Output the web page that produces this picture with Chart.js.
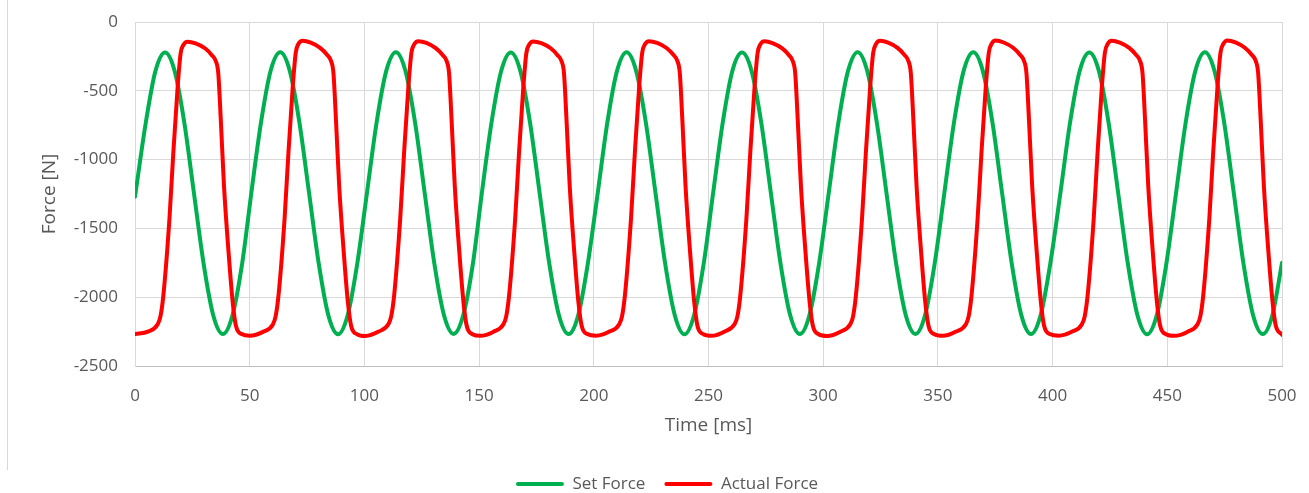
<!DOCTYPE html>
<html><head><meta charset="utf-8">
<script src="https://cdn.jsdelivr.net/npm/chart.js@4"></script>
<style>
html,body{margin:0;padding:0;background:#fff;overflow:hidden;}
#wrap{position:relative;width:1309px;height:493px;}
#frame{position:absolute;left:7px;top:0;width:1px;height:470px;background:#d9d9d9;}
canvas{position:absolute;left:0;top:0;}
</style></head><body>
<div id="wrap"><div id="frame"></div><canvas id="c" width="1309" height="493" style="width:1309px;height:493px"></canvas></div>
<script>
const seriesNames = ['Set Force', 'Actual Force'];
const xTickValues = [0, 50, 100, 150, 200, 250, 300, 350, 400, 450, 500];
const yTickValues = [-2500, -2000, -1500, -1000, -500, 0];

const setTime = [
  0, 4.7, 8.9, 13.1, 17.3, 21.5, 25.7, 29.9, 34.1, 38.3, 42.5, 46.7,
  50.7, 54.9, 59.1, 63.3, 67.5, 71.7, 75.9, 80.1, 84.3, 88.5, 92.7, 96.9,
  101.1, 105.3, 109.5, 113.7, 117.9, 122.1, 126.3, 130.5, 134.7, 138.9, 143.1, 147.3,
  151.2, 155.4, 159.6, 163.8, 168.0, 172.2, 176.4, 180.6, 184.8, 189.0, 193.2, 197.4,
  201.7, 205.9, 210.1, 214.3, 218.5, 222.7, 226.9, 231.1, 235.3, 239.5, 243.7, 247.9,
  252.0, 256.2, 260.4, 264.6, 268.8, 273.0, 277.2, 281.4, 285.6, 289.8, 294.0, 298.2,
  302.4, 306.6, 310.8, 315.0, 319.2, 323.4, 327.6, 331.8, 336.0, 340.2, 344.4, 348.6,
  352.8, 357.0, 361.2, 365.4, 369.6, 373.8, 378.0, 382.2, 386.4, 390.6, 394.8, 399.0,
  403.4, 407.6, 411.8, 416.0, 420.2, 424.4, 428.6, 432.8, 437.0, 441.2, 445.4, 449.6,
  453.8, 458.0, 462.2, 466.4, 470.6, 474.8, 479.0, 483.2, 487.4, 491.6, 495.8, 500.0
];
const setForce = [
  -1270, -732, -357, -221, -357, -732, -1244, -1756, -2131, -2268, -2131, -1756,
  -1244, -733, -356, -220, -357, -733, -1245, -1756, -2132, -2269, -2131, -1755,
  -1244, -732, -357, -219, -356, -732, -1244, -1757, -2131, -2267, -2130, -1756,
  -1243, -732, -358, -221, -357, -731, -1244, -1756, -2131, -2268, -2132, -1756,
  -1244, -731, -357, -220, -358, -732, -1243, -1755, -2131, -2270, -2131, -1757,
  -1245, -732, -356, -222, -357, -732, -1244, -1756, -2130, -2268, -2131, -1756,
  -1244, -733, -357, -219, -356, -733, -1244, -1756, -2131, -2267, -2131, -1755,
  -1244, -732, -357, -220, -357, -732, -1245, -1757, -2132, -2268, -2130, -1756,
  -1243, -732, -356, -221, -357, -731, -1244, -1756, -2131, -2269, -2131, -1756,
  -1244, -732, -357, -220, -358, -732, -1244, -1755, -2131, -2268, -2131, -1750
];

const actTime = [
  0, 5.6, 9.9, 11.1, 12.35, 15.0, 16.7, 18.6, 19.9, 21.1, 22.9, 26.4, 30.5, 33.4, 35.3, 36.3, 37.4, 38.8, 40.8, 42.6, 44.0, 46.5,
  50.0, 55.8, 60.1, 61.3, 62.55, 65.2, 66.9, 68.8, 70.1, 71.3, 73.1, 76.6, 80.7, 83.6, 85.5, 86.5, 87.6, 89.0, 91.0, 92.8, 94.2, 96.7,
  100.4, 106.2, 110.5, 111.7, 112.95, 115.6, 117.3, 119.2, 120.5, 121.7, 123.5, 127.0, 131.1, 134.0, 135.9, 136.9, 138.0, 139.4, 141.4, 143.2, 144.6, 147.1,
  150.5, 156.3, 160.6, 161.8, 163.05, 165.7, 167.4, 169.3, 170.6, 171.8, 173.6, 177.1, 181.2, 184.1, 186.0, 187.0, 188.1, 189.5, 191.5, 193.3, 194.7, 197.2,
  201.0, 206.8, 211.1, 212.3, 213.55, 216.2, 217.9, 219.8, 221.1, 222.3, 224.1, 227.6, 231.7, 234.6, 236.5, 237.5, 238.6, 240.0, 242.0, 243.8, 245.2, 247.7,
  251.3, 257.1, 261.4, 262.6, 263.85, 266.5, 268.2, 270.1, 271.4, 272.6, 274.4, 277.9, 282.0, 284.9, 286.8, 287.8, 288.9, 290.3, 292.3, 294.1, 295.5, 298.0,
  301.7, 307.5, 311.8, 313.0, 314.25, 316.9, 318.6, 320.5, 321.8, 323.0, 324.8, 328.3, 332.4, 335.3, 337.2, 338.2, 339.3, 340.7, 342.7, 344.5, 345.9, 348.4,
  352.1, 357.9, 362.2, 363.4, 364.65, 367.3, 369.0, 370.9, 372.2, 373.4, 375.2, 378.7, 382.8, 385.7, 387.6, 388.6, 389.7, 391.1, 393.1, 394.9, 396.3, 398.8,
  402.7, 408.5, 412.8, 414.0, 415.25, 417.9, 419.6, 421.5, 422.8, 424.0, 425.8, 429.3, 433.4, 436.3, 438.2, 439.2, 440.3, 441.7, 443.7, 445.5, 446.9, 449.4,
  453.1, 458.9, 463.2, 464.4, 465.65, 468.3, 470.0, 471.9, 473.2, 474.4, 476.2, 479.7, 483.8, 486.7, 488.6, 489.6, 490.7, 492.1, 494.1, 495.9, 497.3, 499.8,
  500
];
const actForce = [
  -2268, -2250, -2196, -2140, -1990, -1435, -951, -469, -227, -167, -143, -155, -191, -239, -287, -372, -710, -1193, -1676, -2038, -2208, -2268,
  -2280, -2252, -2198, -2140, -1988, -1430, -945, -462, -220, -158, -136, -150, -188, -236, -285, -370, -708, -1190, -1674, -2036, -2207, -2268,
  -2282, -2250, -2195, -2138, -1990, -1433, -950, -466, -224, -163, -140, -152, -190, -238, -286, -372, -710, -1193, -1676, -2038, -2208, -2269,
  -2281, -2251, -2197, -2141, -1991, -1436, -952, -468, -226, -165, -141, -154, -191, -239, -287, -371, -709, -1192, -1675, -2037, -2208, -2268,
  -2280, -2250, -2196, -2139, -1989, -1434, -949, -465, -223, -162, -139, -152, -189, -237, -286, -372, -711, -1194, -1677, -2039, -2209, -2268,
  -2281, -2249, -2195, -2140, -1990, -1435, -951, -467, -225, -163, -140, -153, -190, -238, -287, -373, -710, -1193, -1676, -2038, -2208, -2269,
  -2282, -2251, -2197, -2141, -1990, -1434, -950, -466, -223, -161, -137, -150, -188, -237, -286, -372, -709, -1192, -1676, -2037, -2207, -2268,
  -2281, -2250, -2196, -2140, -1989, -1433, -948, -464, -221, -159, -135, -149, -187, -236, -285, -371, -709, -1193, -1675, -2038, -2208, -2268,
  -2280, -2250, -2196, -2139, -1990, -1434, -949, -465, -222, -160, -136, -150, -188, -237, -286, -372, -710, -1193, -1676, -2038, -2208, -2269,
  -2281, -2251, -2196, -2140, -1990, -1435, -950, -466, -222, -160, -134, -148, -187, -236, -285, -371, -709, -1192, -1676, -2037, -2208, -2268,
  -2272
];

const toPoints = (xs, ys) => xs.map((x, i) => ({ x: x, y: ys[i] }));

Chart.defaults.font.family = "'Open Sans', sans-serif";
Chart.defaults.color = '#595959';

const legendShift = {
  id: 'legendShift',
  afterLayout(chart) {
    const lg = chart.legend;
    if (lg) { lg.left += 26; lg.right += 26; }
  }
};

new Chart(document.getElementById('c'), {
  type: 'line',
  data: {
    datasets: [
      { label: seriesNames[0], data: toPoints(setTime, setForce), borderColor: '#00B050', backgroundColor: '#00B050',
        borderWidth: 4, pointRadius: 0, cubicInterpolationMode: 'monotone', borderJoinStyle: 'round', borderCapStyle: 'round', order: 1 },
      { label: seriesNames[1], data: toPoints(actTime, actForce), borderColor: '#FF0000', backgroundColor: '#FF0000',
        borderWidth: 4, pointRadius: 0, cubicInterpolationMode: 'monotone', borderJoinStyle: 'round', borderCapStyle: 'round', order: 0 }
    ]
  },
  plugins: [legendShift],
  options: {
    responsive: false,
    animation: false,
    devicePixelRatio: 1,
    layout: { padding: { top: 22, right: 27, bottom: -9.5, left: 0 } },
    scales: {
      x: {
        type: 'linear', min: 0, max: 500,
        afterBuildTicks: s => { s.ticks = xTickValues.map(v => ({ value: v })); },
        afterFit: s => { s.height = 90.5; s.paddingLeft = 0; s.paddingRight = 0; },
        ticks: { color: '#595959', font: { size: 17 }, padding: 20, maxRotation: 0, autoSkip: false, callback: v => String(v) },
        grid: { color: '#d9d9d9', drawTicks: false, lineWidth: 1 },
        border: { color: '#bfbfbf' },
        title: { display: true, text: 'Time [ms]', color: '#595959', font: { size: 19 }, padding: { top: 0, bottom: 20 } }
      },
      y: {
        type: 'linear', min: -2500, max: 0,
        afterBuildTicks: s => { s.ticks = yTickValues.map(v => ({ value: v })); },
        afterFit: s => { s.width = 135; s.paddingTop = 0; s.paddingBottom = 0; },
        ticks: { color: '#595959', font: { size: 17 }, padding: 17, autoSkip: false, callback: v => String(v) },
        grid: { color: '#d9d9d9', drawTicks: false, lineWidth: 1 },
        border: { color: '#d9d9d9' },
        title: { display: true, text: 'Force [N]', color: '#595959', font: { size: 19 }, padding: { top: 38, bottom: 0 } }
      }
    },
    plugins: {
      tooltip: { enabled: false },
      legend: {
        position: 'bottom',
        labels: {
          boxWidth: 48, boxHeight: 4, padding: 19, color: '#595959', font: { size: 17 },
          useBorderRadius: true, borderRadius: 2,
          sort: (a, b) => a.datasetIndex - b.datasetIndex,
          generateLabels: chart => {
            const items = Chart.defaults.plugins.legend.labels.generateLabels(chart);
            items.forEach(it => { it.lineWidth = 0; });
            return items;
          }
        }
      }
    }
  }
});
</script>
</body></html>
